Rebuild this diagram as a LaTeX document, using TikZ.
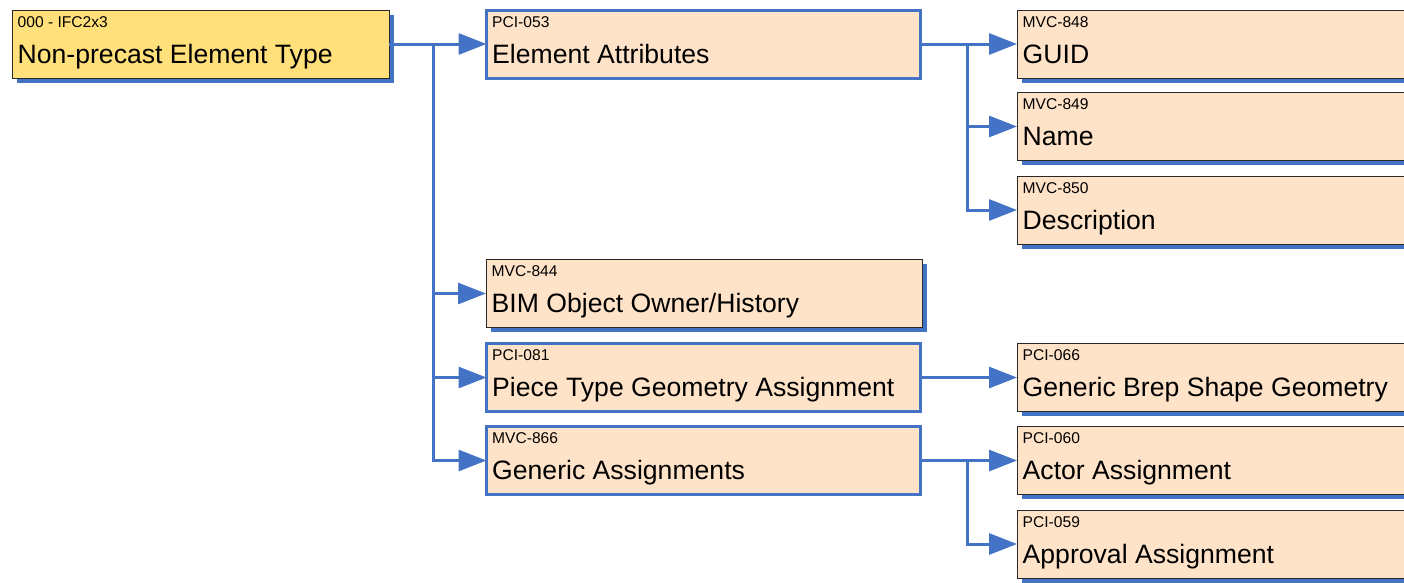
\documentclass[tikz,border=0pt]{standalone}
\usepackage{fontspec}
\setmainfont{Liberation Sans}
\usetikzlibrary{arrows.meta,shadows}
\definecolor{linkblue}{RGB}{68,114,196}
\definecolor{peach}{RGB}{255,227,200}
\definecolor{gold}{RGB}{255,224,122}
\definecolor{edgegray}{RGB}{40,40,40}
\newcommand{\elembox}[7]{%
  \node[#2, minimum width=#3] (#1) at (#4,#5) {};
  \node[idtext] (#1-id) at ([xshift=5.5pt,yshift=-17pt]#1.north west) {#6};
  \node[titletext] (#1-title) at ([xshift=5.5pt,yshift=-53pt]#1.north west) {#7};
}
\begin{document}
\begin{tikzpicture}[x=1pt,y=-1pt,
  basebox/.style={rectangle, anchor=north west, minimum height=68pt, inner sep=0pt, outer sep=0pt},
  plainbox/.style={basebox, fill=peach, draw=edgegray, line width=1pt,
    drop shadow={shadow xshift=4.5pt, shadow yshift=-4.5pt, fill=linkblue, opacity=1}},
  rootbox/.style={plainbox, fill=gold},
  bluebox/.style={basebox, fill=peach, draw=linkblue, line width=3pt},
  idtext/.style={anchor=base west, inner sep=0pt, font=\fontsize{15.6}{18}\selectfont},
  titletext/.style={anchor=base west, inner sep=0pt, font=\fontsize{26.6}{30}\selectfont},
  conn/.style={draw=linkblue, line width=3pt},
  arr/.style={conn, -{Triangle[length=28pt,width=21pt]}}
]
\useasboundingbox (0,0) rectangle (1404,582);
\clip (0,0) rectangle (1404,582);

% column 1
\elembox{root}{rootbox}{377pt}{12}{10}{000 - IFC2x3}{Non-precast Element Type}

% column 2
\elembox{ea}{bluebox}{434pt}{486.5}{10}{PCI-053}{Element Attributes}
\elembox{bim}{plainbox}{436pt}{486}{259.5}{MVC-844}{BIM Object Owner/History}
\elembox{pta}{bluebox}{434pt}{486.5}{343.5}{PCI-081}{Piece Type Geometry Assignment}
\elembox{ga}{bluebox}{434pt}{486.5}{426.5}{MVC-866}{Generic Assignments}

% column 3
\elembox{guid}{plainbox}{430pt}{1017}{10}{MVC-848}{GUID}
\elembox{name}{plainbox}{430pt}{1017}{92.5}{MVC-849}{Name}
\elembox{desc}{plainbox}{430pt}{1017}{176}{MVC-850}{Description}
\elembox{brep}{plainbox}{430pt}{1017}{343.5}{PCI-066}{Generic Brep Shape Geometry}
\elembox{actor}{plainbox}{430pt}{1017}{426.5}{PCI-060}{Actor Assignment}
\elembox{appr}{plainbox}{430pt}{1017}{510}{PCI-059}{Approval Assignment}

% connectors from root
\coordinate (j1) at (433,44);
\draw[conn] (root.east) -- (j1);
\draw[arr] (j1) -- (ea.west);
\draw[arr] (j1) |- (bim.west);
\draw[arr] (j1) |- (pta.west);
\draw[arr] (j1) |- (ga.west);

% connectors from Element Attributes
\coordinate (j2) at (967,44);
\draw[conn] (ea.east) -- (j2);
\draw[arr] (j2) -- (guid.west);
\draw[arr] (j2) |- (name.west);
\draw[arr] (j2) |- (desc.west);

% Piece Type Geometry Assignment
\draw[arr] (pta.east) -- (brep.west);

% Generic Assignments
\coordinate (j3) at (967,460.5);
\draw[conn] (ga.east) -- (j3);
\draw[arr] (j3) -- (actor.west);
\draw[arr] (j3) |- (appr.west);
\end{tikzpicture}
\end{document}
